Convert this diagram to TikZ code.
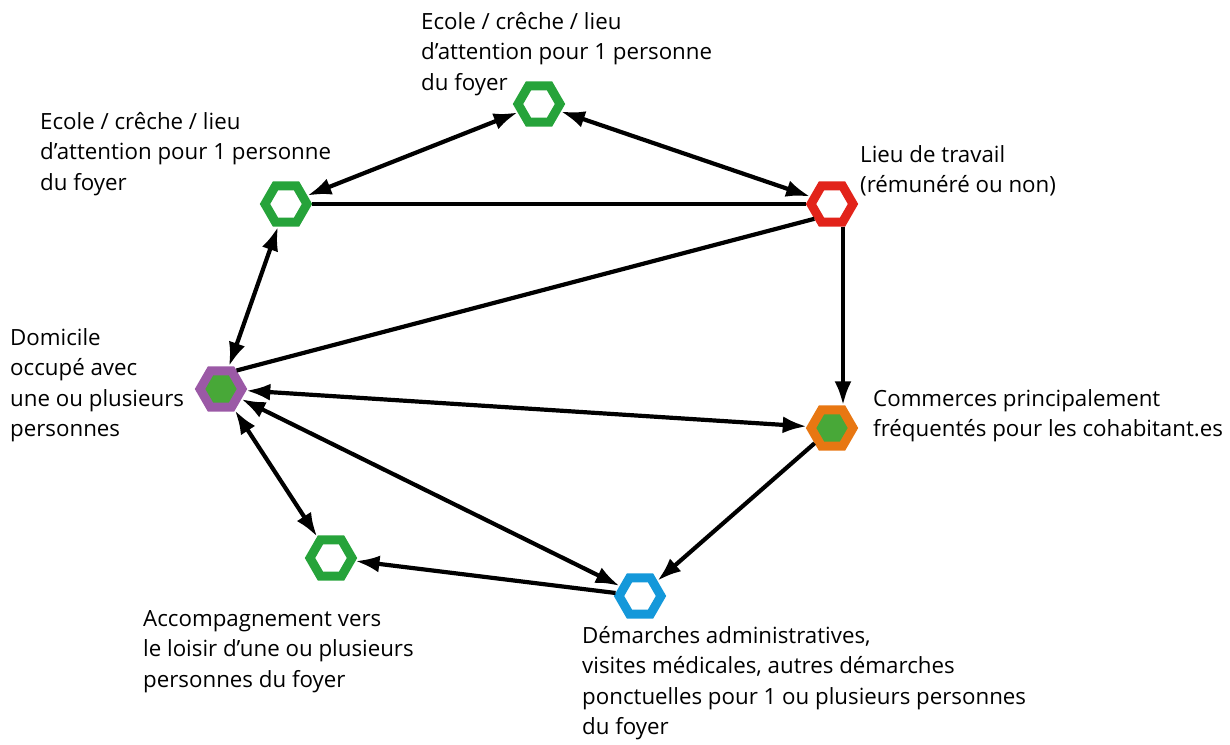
\documentclass[tikz,border=0pt]{standalone}
\usepackage{fontspec}
\setmainfont{Open Sans}
\usetikzlibrary{shapes.geometric,arrows.meta}
\definecolor{hgreen}{RGB}{38,163,58}
\definecolor{igreen}{RGB}{72,168,56}
\definecolor{hred}{RGB}{226,35,26}
\definecolor{hpurple}{RGB}{155,89,166}
\definecolor{horange}{RGB}{232,119,18}
\definecolor{hblue}{RGB}{20,152,218}
\tikzset{
  hexa/.style={regular polygon, regular polygon sides=6, minimum size=42pt, line width=9pt, inner sep=0pt, fill=white},
  arr/.style={line width=4.2pt, -{Latex[length=24pt,width=17pt]}},
  darr/.style={line width=4.2pt, {Latex[length=24pt,width=17pt]}-{Latex[length=24pt,width=17pt]}},
  plain/.style={line width=4.2pt},
  lbl/.style={align=left, anchor=north west, inner sep=0pt, font=\fontsize{22.3}{30.5}\selectfont}
}
\begin{document}
\begin{tikzpicture}[x=1pt,y=-1pt]
\useasboundingbox (0,0) rectangle (1230,744);
% nodes
\node[hexa, draw=hgreen] (t) at (539,104) {};
\node[hexa, draw=hgreen] (g1) at (286,204) {};
\node[hexa, draw=hred] (r) at (832,204) {};
\node[hexa, draw=hpurple, fill=igreen] (p) at (221,389) {};
\node[hexa, draw=horange, fill=igreen] (o) at (832,428) {};
\node[hexa, draw=hgreen] (g2) at (331,558) {};
\node[hexa, draw=hblue] (b) at (640,596) {};
% labels
\node[lbl] (lt) at (421,12) {Ecole / crêche / lieu\\d’attention pour 1 personne\\du foyer};
\node[lbl] (lg1) at (40,112) {Ecole / crêche / lieu\\d’attention pour 1 personne\\du foyer};
\node[lbl] (lr) at (860,145) {Lieu de travail\\(rémunéré ou non)};
\node[lbl] (lp) at (10,328) {Domicile\\occupé avec\\une ou plusieurs\\personnes};
\node[lbl] (lo) at (873,389) {Commerces principalement\\fréquentés pour les cohabitant.es};
\node[lbl] (lg2) at (143,610) {Accompagnement vers\\le loisir d’une ou plusieurs\\personnes du foyer};
\node[lbl] (lb) at (582,626) {Démarches administratives,\\visites médicales, autres démarches\\ponctuelles pour 1 ou plusieurs personnes\\du foyer};
% connectors
\draw[darr] (t) -- (g1);
\draw[darr] (t) -- (r);
\draw[plain] (g1) -- (r);
\draw[plain] (r.220) -- (p.50);
\draw[arr] ([xshift=11pt]r.south) -- ([xshift=11pt]o.north);
\draw[darr] (g1) -- (p);
\draw[darr] (p) -- (o);
\draw[darr] (p) -- (g2);
\draw[darr] (p) -- (b);
\draw[arr] (o) -- (b);
\draw[arr] (b) -- (g2);
\end{tikzpicture}
\end{document}
